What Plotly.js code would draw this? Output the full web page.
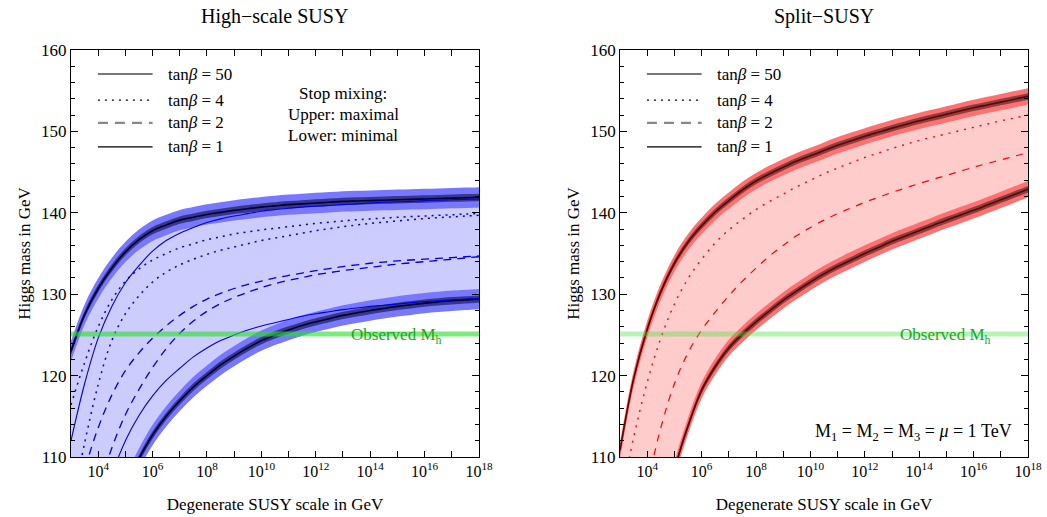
<!DOCTYPE html>
<html>
<head>
<meta charset="utf-8">
<script src="https://cdn.plot.ly/plotly-3.0.1.min.js"></script>
<style>html,body{margin:0;padding:0;background:#fff;}#chart{width:1047px;height:517px;}</style>
</head>
<body>
<div id="chart"></div>
<script>
// ---- data: log10 of the degenerate SUSY scale in GeV (half-decade steps) ----
const scaleExponents = [3,3.5,4,4.5,5,5.5,6,6.5,7,7.5,8,8.5,9,9.5,10,10.5,11,11.5,12,12.5,13,13.5,14,14.5,15,15.5,16,16.5,17,17.5,18];

// High-scale SUSY, Higgs mass in GeV; Max = maximal stop mixing (upper), Min = minimal (lower)
const hsTan50Max = [123.0,127.5,130.7,133.2,135.2,136.7,137.8,138.5,139.1,139.45,139.8,140.05,140.3,140.5,140.7,140.85,141.0,141.1,141.2,141.3,141.4,141.45,141.5,141.55,141.6,141.65,141.7,141.75,141.8,141.85,141.9];
const hsTan50Min = [112.0,119.0,124.6,128.5,131.4,133.5,135.3,136.6,137.5,138.2,138.8,139.25,139.6,139.9,140.2,140.4,140.55,140.7,140.8,140.9,141.0,141.1,141.2,141.3,141.35,141.4,141.5,141.55,141.6,141.65,141.7];
const hsTan4Max  = [116.4,121.6,126.0,129.3,131.6,133.1,134.2,135.0,135.7,136.2,136.7,137.05,137.4,137.65,137.9,138.1,138.3,138.5,138.7,138.85,139.0,139.15,139.25,139.35,139.45,139.55,139.6,139.7,139.75,139.85,139.9];
const hsTan4Min  = [103.5,111.7,118.9,124.3,127.6,129.8,131.5,132.7,133.6,134.3,134.9,135.4,135.8,136.2,136.6,136.9,137.2,137.5,137.8,138.05,138.3,138.5,138.7,138.85,139.0,139.15,139.3,139.4,139.5,139.6,139.7];
const hsTan2Max  = [102.0,108.4,113.6,117.6,120.6,122.8,124.6,126.1,127.4,128.5,129.4,130.1,130.7,131.2,131.6,132.0,132.3,132.6,132.9,133.15,133.4,133.6,133.8,133.95,134.1,134.2,134.3,134.4,134.5,134.6,134.7];
const hsTan2Min  = [92.0,99.5,106.0,111.1,115.2,118.3,121.0,123.3,125.2,126.7,127.9,128.85,129.6,130.25,130.8,131.3,131.7,132.05,132.4,132.65,132.9,133.1,133.3,133.5,133.7,133.85,134.0,134.15,134.3,134.45,134.6];
const hsTan1Max  = [89.0,96.0,102.5,107.8,112.0,115.1,117.5,119.4,120.9,122.3,123.4,124.3,125.0,125.6,126.1,126.5,126.9,127.3,127.6,127.85,128.1,128.3,128.5,128.65,128.8,128.95,129.1,129.2,129.3,129.4,129.5];
const hsTan1Min  = [87.0,93.0,98.0,102.5,106.4,109.8,112.7,115.0,116.9,118.6,120.0,121.3,122.4,123.4,124.3,125.0,125.6,126.15,126.6,127.0,127.4,127.7,128.0,128.25,128.5,128.7,128.9,129.05,129.2,129.3,129.4];

// Split-SUSY (M1 = M2 = M3 = mu = 1 TeV)
const splitTan50 = [110.8,119.6,125.7,130.3,133.8,136.4,138.4,140.1,141.5,142.8,143.9,144.8,145.6,146.35,147.0,147.65,148.3,148.85,149.4,149.9,150.4,150.85,151.3,151.7,152.1,152.5,152.9,153.25,153.6,153.95,154.3];
const splitTan4  = [104.0,112.4,119.2,124.6,128.8,131.9,134.3,136.3,137.9,139.2,140.4,141.4,142.3,143.2,144.0,144.8,145.5,146.15,146.8,147.35,147.9,148.4,148.9,149.3,149.7,150.1,150.5,150.9,151.3,151.65,152.0];
const splitTan2  = [90.0,98.5,106.5,113.6,119.0,122.8,125.6,127.8,129.8,131.6,133.2,134.7,136.0,137.2,138.2,139.1,139.9,140.6,141.3,141.9,142.5,143.05,143.6,144.1,144.6,145.1,145.6,146.05,146.5,146.95,147.4];
const splitTan1  = [70.0,80.0,89.5,99.5,108.3,113.8,118.2,121.1,123.4,125.1,126.6,127.95,129.25,130.4,131.5,132.5,133.4,134.2,135.0,135.75,136.5,137.15,137.8,138.45,139.1,139.7,140.3,140.95,141.6,142.25,142.9];

// theoretical uncertainty half-widths (GeV)
const hsOuterUnc = 1.25, hsInnerUnc = 0.45;
const splitOuterUnc = 1.0, splitInnerUnc = 0.4;

const observedMh = 125.1;

const xLabelExponents = [4,6,8,10,12,14,16,18];
const xTickLabels = ['10<sup>4</sup>','10<sup>6</sup>','10<sup>8</sup>','10<sup>10</sup>','10<sup>12</sup>','10<sup>14</sup>','10<sup>16</sup>','10<sup>18</sup>'];
const legendLabels = ['tan<i>β</i> = 50', 'tan<i>β</i> = 4', 'tan<i>β</i> = 2', 'tan<i>β</i> = 1'];
const panelTitles = ['High\u2212scale SUSY', 'Split\u2212SUSY'];
const stopMixingText = ['Stop mixing:', 'Upper: maximal', 'Lower: minimal'];
const gauginoText = 'M<sub>1</sub> = M<sub>2</sub> = M<sub>3</sub> = <i>μ</i> = 1 TeV';
const observedLabel = 'Observed M<sub>h</sub>';
const xTitle = 'Degenerate SUSY scale in GeV';
const yTitle = 'Higgs mass in GeV';

// ---- build ----
const FONT = 'Liberation Serif, Times New Roman, serif';
const xs = scaleExponents.map(e => Math.pow(10, e));
const traces = [];

function line(y, xa, ya, color, width, dash) {
  traces.push({x: xs, y: y, xaxis: xa, yaxis: ya, type: 'scatter', mode: 'lines',
    line: {color: color, width: width, dash: dash || 'solid', shape: 'spline', smoothing: 1},
    showlegend: false, hoverinfo: 'skip'});
}
function fillBetween(lo, hi, xa, ya, color) {
  traces.push({x: xs, y: lo, xaxis: xa, yaxis: ya, type: 'scatter', mode: 'lines',
    line: {width: 0, shape: 'spline', smoothing: 1}, showlegend: false, hoverinfo: 'skip'});
  traces.push({x: xs, y: hi, xaxis: xa, yaxis: ya, type: 'scatter', mode: 'lines', fill: 'tonexty',
    fillcolor: color, line: {width: 0, shape: 'spline', smoothing: 1}, showlegend: false, hoverinfo: 'skip'});
}
function band(center, outer, inner, xa, ya, cOuter, cInner, cLine) {
  fillBetween(center.map(v => v - outer), center.map(v => v + outer), xa, ya, cOuter);
  fillBetween(center.map(v => v - inner), center.map(v => v + inner), xa, ya, cInner);
  line(center, xa, ya, cLine, 1.6);
}
function hline(xa, ya, color) {
  traces.push({x: [xs[0], xs[xs.length-1]], y: [observedMh, observedMh], xaxis: xa, yaxis: ya,
    type: 'scatter', mode: 'lines', line: {color: color, width: 5}, showlegend: false, hoverinfo: 'skip'});
}

// left panel
fillBetween(hsTan1Min, hsTan50Max, 'x', 'y', '#ccccff');
band(hsTan50Max, hsOuterUnc, hsInnerUnc, 'x', 'y', '#7878ff', 'rgb(55,55,140)', '#00003a');
band(hsTan1Min, hsOuterUnc, hsInnerUnc, 'x', 'y', '#7878ff', 'rgb(55,55,140)', '#00003a');
line(hsTan50Min, 'x', 'y', '#0000dd', 1.1);
line(hsTan4Max, 'x', 'y', '#0000dd', 1.5, '2px,5px');
line(hsTan4Min, 'x', 'y', '#0000dd', 1.5, '2px,5px');
line(hsTan2Max, 'x', 'y', '#0000dd', 1.3, '8px,6px');
line(hsTan2Min, 'x', 'y', '#0000dd', 1.3, '8px,6px');
line(hsTan1Max, 'x', 'y', '#0000dd', 1.1);
hline('x', 'y', 'rgba(40,225,40,0.62)');

// right panel
fillBetween(splitTan1, splitTan50, 'x2', 'y2', '#ffcccc');
band(splitTan50, splitOuterUnc, splitInnerUnc, 'x2', 'y2', '#ff7070', 'rgb(135,65,65)', '#6a0000');
band(splitTan1, splitOuterUnc, splitInnerUnc, 'x2', 'y2', '#ff7070', 'rgb(135,65,65)', '#6a0000');
line(splitTan4, 'x2', 'y2', '#ff0000', 1.4, '2px,6px');
line(splitTan2, 'x2', 'y2', '#ff0000', 1.2, '7px,7px');
hline('x2', 'y2', 'rgba(60,225,60,0.38)');

const xBase = {type: 'log', range: [3, 18], tickmode: 'array',
  tickvals: xLabelExponents.map(e => Math.pow(10, e)), ticktext: xTickLabels,
  ticks: 'inside', ticklen: 6, tickcolor: '#000',
  minor: {dtick: 1, ticks: 'inside', ticklen: 6, tickcolor: '#000', showgrid: false},
  mirror: 'allticks', showline: true,
  linecolor: '#000', linewidth: 1, showgrid: false, zeroline: false,
  tickfont: {family: FONT, size: 16, color: '#000'},
  title: {text: xTitle, font: {family: FONT, size: 17, color: '#000'}, standoff: 18}};
const yBase = {range: [110, 160], tick0: 110, dtick: 10, ticks: 'inside', ticklen: 7, tickcolor: '#000',
  minor: {dtick: 2, ticks: 'inside', ticklen: 4, tickcolor: '#000', showgrid: false},
  mirror: 'allticks', showline: true, linecolor: '#000', linewidth: 1, showgrid: false, zeroline: false,
  tickfont: {family: FONT, size: 17, color: '#000'},
  title: {text: yTitle, font: {family: FONT, size: 17, color: '#000'}, standoff: 6}};

const annotations = [];
const shapes = [];
const legendRowsY = [0.941, 0.877, 0.821, 0.762];
const legendStyles = [
  {color: '#777', width: 2.0, dash: 'solid'},
  {color: '#000', width: 1.3, dash: '2px,5px'},
  {color: '#888', width: 2.2, dash: '10px,7px'},
  {color: '#000', width: 1.2, dash: 'solid'}];
[['x', 'y'], ['x2', 'y2']].forEach(([xa, ya], p) => {
  annotations.push({text: panelTitles[p], xref: xa + ' domain', yref: 'paper', x: 0.5, y: 1.083,
    xanchor: 'center', yanchor: 'middle', showarrow: false, font: {family: FONT, size: 20, color: '#000'}});
  annotations.push({text: observedLabel, xref: xa + ' domain', yref: ya, x: 0.914, y: observedMh,
    xanchor: 'right', yanchor: 'middle', yshift: -2, showarrow: false, font: {family: FONT, size: 17, color: '#1aa81a'}});
  legendLabels.forEach((lab, i) => {
    shapes.push({type: 'line', xref: xa + ' domain', yref: ya + ' domain', x0: 0.066, x1: 0.2,
      y0: legendRowsY[i], y1: legendRowsY[i], line: legendStyles[i]});
    annotations.push({text: lab, xref: xa + ' domain', yref: ya + ' domain', x: 0.233, y: legendRowsY[i],
      xanchor: 'left', yanchor: 'middle', showarrow: false, font: {family: FONT, size: 17, color: '#000'}});
  });
});
const stopY = [0.892, 0.842, 0.789];
stopMixingText.forEach((t, i) => annotations.push({text: t, xref: 'x domain', yref: 'y domain', x: 0.667, y: stopY[i],
  xanchor: 'center', yanchor: 'middle', showarrow: false, font: {family: FONT, size: 17, color: '#000'}}));
annotations.push({text: gauginoText, xref: 'x2 domain', yref: 'y2 domain', x: 0.965, y: 0.059,
  xanchor: 'right', yanchor: 'middle', showarrow: false, font: {family: FONT, size: 18, color: '#000'}});

const layout = {
  width: 1047, height: 517, margin: {l: 71, r: 19, t: 50, b: 60},
  paper_bgcolor: '#fff', plot_bgcolor: '#fff', showlegend: false,
  xaxis: Object.assign({}, xBase, {domain: [0, 0.4263], anchor: 'y'}),
  yaxis: Object.assign({}, yBase, {domain: [0, 1], anchor: 'x'}),
  xaxis2: Object.assign({}, xBase, {domain: [0.5737, 1], anchor: 'y2'}),
  yaxis2: Object.assign({}, yBase, {domain: [0, 1], anchor: 'x2'}),
  annotations: annotations, shapes: shapes
};
Plotly.newPlot('chart', traces, layout, {staticPlot: true, displayModeBar: false});
</script>
</body>
</html>
